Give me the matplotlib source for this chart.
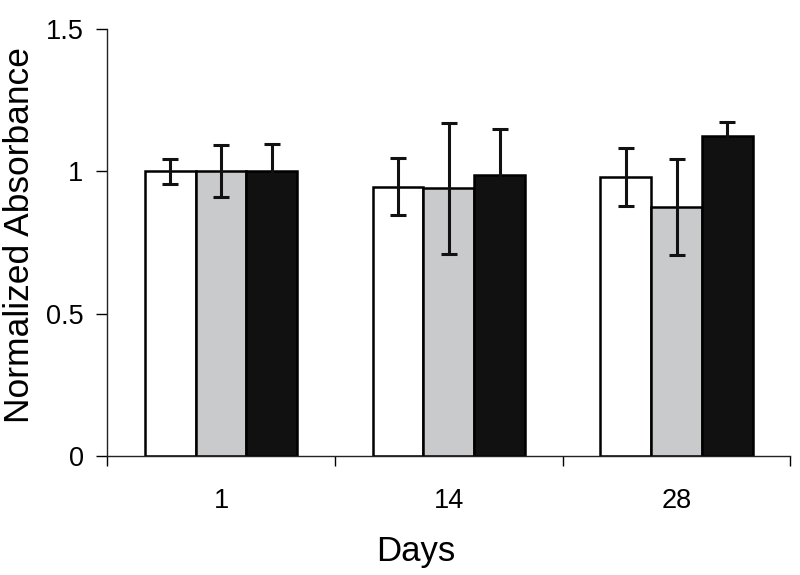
import matplotlib.pyplot as plt
import numpy as np

plt.rcParams['font.family'] = ['Liberation Sans', 'DejaVu Sans']

days = ['1', '14', '28']
white_vals = [1.0, 0.946, 0.979]
white_errs = [0.044, 0.101, 0.102]
grey_vals = [1.0, 0.940, 0.873]
grey_errs = [0.091, 0.230, 0.168]
black_vals = [1.0, 0.988, 1.123]
black_errs = [0.094, 0.160, 0.051]

series = [
    (white_vals, white_errs, 'white'),
    (grey_vals, grey_errs, '#c9cacc'),
    (black_vals, black_errs, '#111111'),
]

fig = plt.figure(figsize=(8, 5.75), dpi=100)
ax = fig.add_axes([0.134, 0.207, 0.854, 0.743])

x = np.arange(len(days))
width = 0.223
for i, (vals, errs, color) in enumerate(series):
    pos = x + (i - 1) * width
    ax.bar(pos, vals, width, color=color, edgecolor='black', linewidth=1.8,
           zorder=2)
    ax.errorbar(pos, vals, yerr=errs, fmt='none', ecolor='#111111',
                elinewidth=2.2, capsize=5.5, capthick=2.2, zorder=3)

ax.set_xlim(-0.5, len(days) - 0.5)
ax.set_ylim(0, 1.5)
ax.set_yticks([0, 0.5, 1, 1.5])
ax.set_yticklabels(['0', '0.5', '1', '1.5'])
ax.set_xticks(x)
ax.set_xticklabels(days)
ax.set_xticks(np.arange(len(days) + 1) - 0.5, minor=True)
ax.tick_params(axis='x', which='major', length=0, pad=23, labelsize=19.5)
ax.tick_params(axis='x', which='minor', length=7, width=1, direction='out')
ax.tick_params(axis='y', length=8, width=1, direction='out', labelsize=19.5,
               pad=9)

for side in ['top', 'right']:
    ax.spines[side].set_visible(False)
for side in ['left', 'bottom']:
    ax.spines[side].set_linewidth(1)
    ax.spines[side].set_color('#222222')

ax.set_ylabel('Normalized Absorbance', fontsize=25.5)
ax.yaxis.set_label_coords(-0.104, 0.518)
ax.set_xlabel('Days', fontsize=25)
ax.xaxis.set_label_coords(0.451, -0.185)

fig.savefig('out.png', dpi=100)
